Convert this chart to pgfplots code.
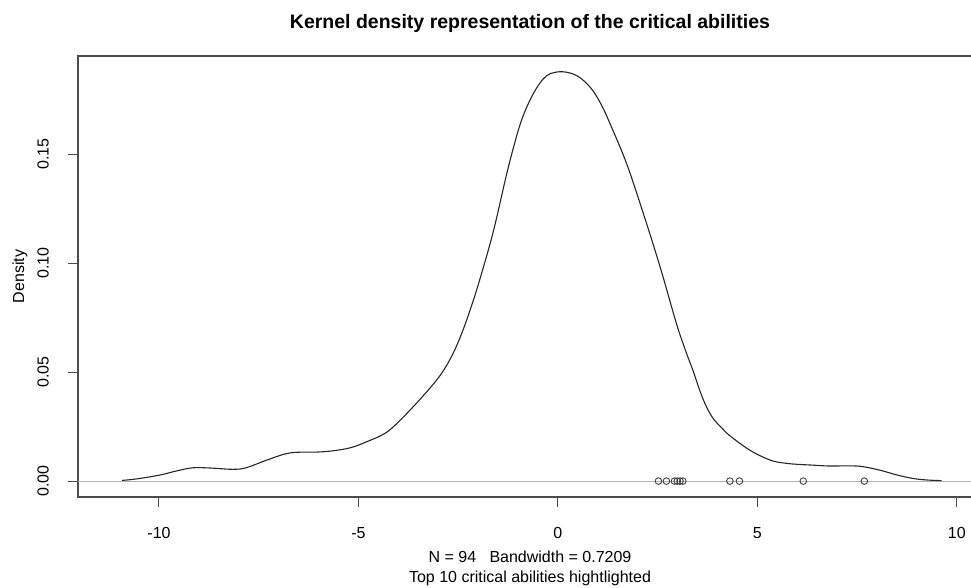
\documentclass[border=0pt]{standalone}
\usepackage{fontspec}
\setmainfont{Liberation Sans}
\usepackage{pgfplots}
\pgfplotsset{compat=1.18}
\begin{document}
\begin{tikzpicture}[x=1pt,y=1pt]
\path[use as bounding box] (0,0) rectangle (971,588);
\clip (0,0) rectangle (971,588);
\begin{axis}[
  at={(78pt,91pt)}, anchor=south west,
  scale only axis, width=904pt, height=441pt,
  xmin=-12.03, xmax=10.63, ymin=-0.0073, ymax=0.195,
  axis line style={draw=black!70, line width=1.1pt},
  tick style={draw=black!70, line width=1pt},
  tick pos=left,
  tick align=outside, major tick length=10pt,
  xtick={-10,-5,0,5,10}, xticklabels={-10,-5,0,5,10},
  ytick={0,0.05,0.1,0.15}, yticklabels={0.00,0.05,0.10,0.15},
  tick label style={font=\fontsize{16}{19}\selectfont},
  xticklabel style={anchor=center, yshift=-26pt},
  yticklabel style={anchor=center, xshift=-25pt, rotate=90},
  every axis title/.style={at={(axis description cs:0.5,1)}, anchor=center, yshift=33pt, font=\fontsize{19.5}{23}\selectfont\bfseries},
  every axis x label/.style={at={(axis description cs:0.5,0)}, anchor=center, yshift=-71pt, align=center, font=\fontsize{16}{20}\selectfont},
  every axis y label/.style={at={(axis description cs:0,0.5)}, xshift=-58pt, rotate=90, anchor=center, font=\fontsize{16}{19}\selectfont},
  title={Kernel density representation of the critical abilities},
  xlabel={N = 94\ \ \ Bandwidth = 0.7209\\Top 10 critical abilities hightlighted},
  ylabel={Density},
]
\addplot[black!30, line width=1pt] coordinates {(-12.03,0) (10.63,0)};
\addplot[black!85, line width=1.1pt, smooth, tension=0.6] coordinates {
(-10.93,0.0003) (-10.56,0.001) (-9.97,0.0028) (-9.55,0.0047) (-9.15,0.0061)
(-8.72,0.0060) (-8.14,0.0054) (-7.8,0.0062) (-7.3,0.0096) (-6.72,0.0129)
(-6.05,0.0133) (-5.64,0.0139) (-5.2,0.0153) (-4.8,0.018) (-4.3,0.0223)
(-3.88,0.0293) (-3.71,0.0325) (-3.3,0.0407) (-2.96,0.0483) (-2.7,0.0560)
(-2.46,0.0655) (-2.2,0.0785) (-1.95,0.0930) (-1.62,0.1145) (-1.29,0.1405)
(-1.1,0.1540) (-0.95,0.1635) (-0.8,0.1708) (-0.62,0.1776) (-0.45,0.1826)
(-0.28,0.1860) (-0.1,0.1874) (0.1,0.1878) (0.3,0.1872) (0.47,0.1860)
(0.65,0.1836) (0.88,0.1790) (1.1,0.1722) (1.30,0.1642) (1.72,0.1457)
(2.14,0.1228) (2.56,0.0983) (2.97,0.0723) (3.2,0.0598) (3.39,0.0505)
(3.55,0.0418) (3.7,0.0350) (3.88,0.029) (4.1,0.0245) (4.31,0.0208)
(4.74,0.015) (5.05,0.0118) (5.39,0.0092) (5.7,0.0082) (5.99,0.0077)
(6.4,0.0073) (6.82,0.0069) (7.32,0.0070) (7.65,0.0066) (8.07,0.005)
(8.5,0.0028) (8.9,0.0012) (9.25,0.0005) (9.62,0.0002)
};
\addplot[only marks, mark=o, mark size=3.3pt, black!75, mark options={line width=0.9pt}] coordinates {
(2.52,0) (2.72,0) (2.92,0) (2.99,0) (3.06,0) (3.13,0) (4.31,0) (4.55,0) (6.15,0) (7.68,0)
};
\end{axis}
\end{tikzpicture}
\end{document}
